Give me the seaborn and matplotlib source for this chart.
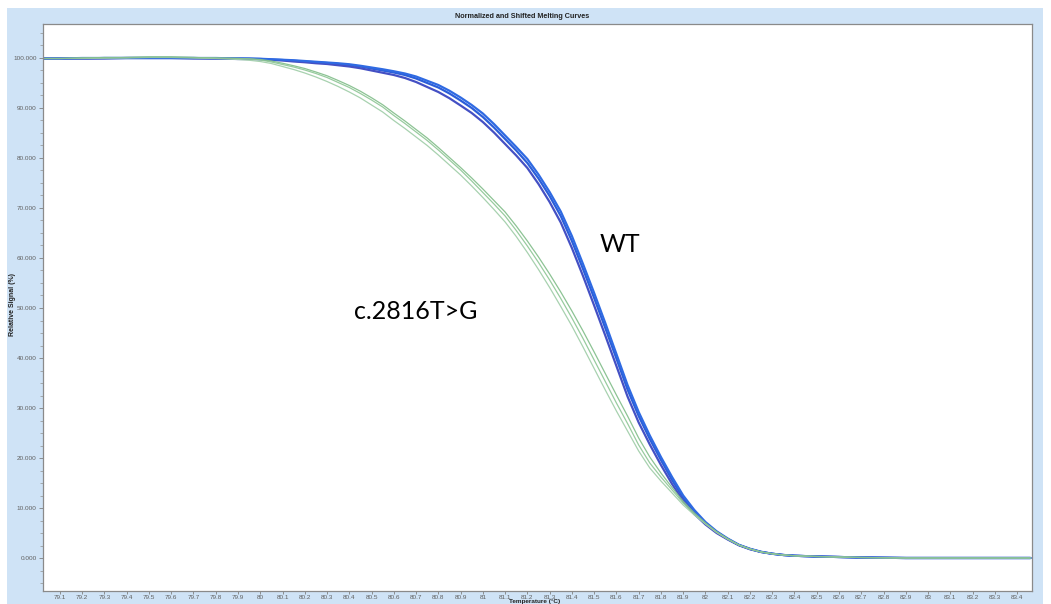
import matplotlib
matplotlib.use("Agg")
import matplotlib.pyplot as plt
from matplotlib.patches import Rectangle
from matplotlib.ticker import MultipleLocator, FixedLocator, FuncFormatter
import numpy as np
import pandas as pd
import seaborn as sns

# Temperature sampling (°C)
temps = [79.03, 79.1, 79.2, 79.3, 79.4, 79.5, 79.6, 79.7, 79.8, 79.9,
         79.95, 80.00, 80.05, 80.10, 80.15, 80.20, 80.25, 80.30, 80.35, 80.40,
         80.45, 80.50, 80.55, 80.60, 80.65, 80.70, 80.75, 80.80, 80.85, 80.90,
         80.95, 81.00, 81.05, 81.10, 81.15, 81.20, 81.25, 81.30, 81.35, 81.40,
         81.45, 81.50, 81.55, 81.60, 81.65, 81.70, 81.75, 81.80, 81.85, 81.90,
         81.95, 82.00, 82.05, 82.10, 82.15, 82.20, 82.25, 82.30, 82.35, 82.40,
         82.5, 82.6, 82.7, 82.8, 82.9, 83.0, 83.1, 83.2, 83.3, 83.4, 83.46]

# Wild-type replicates (relative signal, %)
wt_1 = [99.9, 99.9, 99.9, 100.0, 100.0, 100.0, 100.0, 100.0, 99.9, 99.9,
        99.85, 99.8, 99.7, 99.6, 99.45, 99.3, 99.15, 99.0, 98.8, 98.6,
        98.3, 97.9, 97.5, 97.1, 96.6, 95.9, 95.0, 94.1, 92.9, 91.5,
        90.0, 88.2, 86.1, 83.8, 81.5, 79.0, 75.9, 72.4, 68.4, 63.4,
        57.8, 52.0, 46.0, 39.9, 33.7, 28.4, 23.8, 19.6, 15.6, 12.0,
        9.2, 7.0, 5.2, 3.8, 2.6, 1.8, 1.2, 0.85, 0.6, 0.45,
        0.3, 0.2, 0.1, 0.05, 0.0, 0.0, 0.0, 0.0, 0.0, 0.0, 0.0]
wt_2 = [99.9, 99.9, 99.9, 99.9, 100.0, 100.0, 100.0, 99.9, 99.9, 99.8,
        99.8, 99.75, 99.6, 99.5, 99.3, 99.15, 98.95, 98.8, 98.55, 98.3,
        97.95, 97.5, 97.05, 96.6, 96.0, 95.2, 94.2, 93.2, 91.95, 90.5,
        89.0, 87.2, 85.1, 82.8, 80.5, 78.0, 74.8, 71.2, 67.1, 62.0,
        56.4, 50.5, 44.5, 38.4, 32.3, 27.1, 22.7, 18.6, 14.8, 11.4,
        8.8, 6.7, 5.0, 3.7, 2.55, 1.75, 1.2, 0.85, 0.6, 0.45,
        0.3, 0.2, 0.1, 0.05, 0.0, 0.0, 0.0, 0.0, 0.0, 0.0, 0.0]
wt_3 = [99.9, 99.9, 100.0, 100.0, 100.0, 100.0, 100.0, 100.0, 100.0, 99.9,
        99.9, 99.85, 99.75, 99.65, 99.55, 99.4, 99.25, 99.1, 98.95, 98.75,
        98.45, 98.1, 97.75, 97.35, 96.9, 96.3, 95.45, 94.6, 93.45, 92.1,
        90.6, 88.9, 86.8, 84.5, 82.2, 79.8, 76.7, 73.2, 69.3, 64.4,
        58.8, 53.0, 47.0, 40.8, 34.6, 29.2, 24.5, 20.2, 16.2, 12.5,
        9.6, 7.2, 5.35, 3.9, 2.65, 1.85, 1.25, 0.85, 0.6, 0.45,
        0.3, 0.2, 0.1, 0.05, 0.0, 0.0, 0.0, 0.0, 0.0, 0.0, 0.0]

# c.2816T>G replicates (relative signal, %)
mut_1 = [99.9, 99.9, 100.0, 100.0, 100.1, 100.2, 100.2, 100.1, 100.0, 99.9,
         99.8, 99.6, 99.2, 98.7, 98.2, 97.6, 96.9, 96.1, 95.1, 94.1,
         92.9, 91.6, 90.2, 88.5, 86.9, 85.2, 83.5, 81.6, 79.6, 77.6,
         75.4, 73.1, 70.8, 68.4, 65.5, 62.4, 59.1, 55.6, 51.9, 48.0,
         43.9, 39.6, 35.3, 31.0, 26.9, 22.6, 19.0, 16.2, 13.6, 11.0,
         8.8, 6.9, 5.2, 3.8, 2.6, 1.8, 1.2, 0.85, 0.6, 0.45,
         0.3, 0.2, 0.1, 0.05, 0.0, 0.0, 0.0, 0.0, 0.0, 0.0, 0.0]
mut_2 = [99.9, 99.9, 99.9, 100.0, 100.0, 100.1, 100.1, 100.0, 99.9, 99.7,
         99.55, 99.3, 98.9, 98.3, 97.7, 97.0, 96.2, 95.3, 94.3, 93.2,
         92.0, 90.6, 89.2, 87.5, 85.9, 84.2, 82.5, 80.6, 78.6, 76.6,
         74.4, 72.1, 69.7, 67.2, 64.3, 61.1, 57.7, 54.1, 50.3, 46.4,
         42.2, 37.9, 33.6, 29.4, 25.4, 21.4, 18.0, 15.4, 13.0, 10.6,
         8.6, 6.8, 5.1, 3.75, 2.6, 1.8, 1.2, 0.85, 0.6, 0.45,
         0.3, 0.2, 0.1, 0.05, 0.0, 0.0, 0.0, 0.0, 0.0, 0.0, 0.0]
mut_3 = [99.9, 99.9, 100.0, 100.1, 100.1, 100.2, 100.2, 100.1, 100.0, 99.9,
         99.85, 99.7, 99.4, 98.95, 98.45, 97.9, 97.2, 96.45, 95.5, 94.5,
         93.35, 92.05, 90.65, 89.0, 87.4, 85.7, 84.0, 82.1, 80.1, 78.1,
         76.0, 73.8, 71.5, 69.2, 66.4, 63.4, 60.2, 56.8, 53.2, 49.4,
         45.4, 41.2, 36.9, 32.6, 28.4, 24.0, 20.2, 17.0, 14.1, 11.3,
         9.0, 7.0, 5.25, 3.85, 2.6, 1.8, 1.2, 0.85, 0.6, 0.45,
         0.3, 0.2, 0.1, 0.05, 0.0, 0.0, 0.0, 0.0, 0.0, 0.0, 0.0]

x_ticks = [79.1, 79.2, 79.3, 79.4, 79.5, 79.6, 79.7, 79.8, 79.9, 80.0,
           80.1, 80.2, 80.3, 80.4, 80.5, 80.6, 80.7, 80.8, 80.9, 81.0,
           81.1, 81.2, 81.3, 81.4, 81.5, 81.6, 81.7, 81.8, 81.9, 82.0,
           82.1, 82.2, 82.3, 82.4, 82.5, 82.6, 82.7, 82.8, 82.9, 83.0,
           83.1, 83.2, 83.3, 83.4]
y_ticks = [0, 10, 20, 30, 40, 50, 60, 70, 80, 90, 100]

wells = {"WT-1": wt_1, "WT-2": wt_2, "WT-3": wt_3,
         "MUT-1": mut_1, "MUT-2": mut_2, "MUT-3": mut_3}
frames = [pd.DataFrame({"temp": temps, "signal": vals, "well": name})
          for name, vals in wells.items()]
df = pd.concat(frames, ignore_index=True)

sns.set_style("white")
plt.rcParams["font.family"] = ["Liberation Sans Narrow", "Liberation Sans", "DejaVu Sans"]

W, H = 1051, 604
fig = plt.figure(figsize=(W / 100, H / 100), dpi=100, facecolor="white")

# light-blue chart panel behind the axes
panel = Rectangle((7 / W, 0), (1043 - 7) / W, (H - 8) / H,
                  transform=fig.transFigure, facecolor="#cfe3f6",
                  edgecolor="none", zorder=-10)
fig.add_artist(panel)

ax = fig.add_axes([43 / W, (H - 591) / H, (1032 - 43) / W, (591 - 24) / H])
ax.set_zorder(1)
ax.set_facecolor("white")

wt_palette = {"WT-1": "#2b5ed9", "WT-2": "#4450c4", "WT-3": "#2f6ae2"}
mut_palette = {"MUT-1": "#93c99a", "MUT-2": "#a3cfab", "MUT-3": "#86c08e"}

sns.lineplot(data=df[df["well"].str.startswith("WT")], x="temp", y="signal",
             hue="well", palette=wt_palette, estimator=None, sort=False,
             legend=False, linewidth=1.6, ax=ax)
sns.lineplot(data=df[df["well"].str.startswith("MUT")], x="temp", y="signal",
             hue="well", palette=mut_palette, estimator=None, sort=False,
             legend=False, linewidth=0.9, alpha=0.95, ax=ax)

ax.set_xlim(79.024, 83.467)
ax.set_ylim(-6.6, 106.8)

ax.xaxis.set_major_locator(FixedLocator(x_ticks))
ax.xaxis.set_major_formatter(FuncFormatter(lambda v, p: f"{round(v, 1):g}"))
ax.yaxis.set_major_locator(FixedLocator(y_ticks))
ax.yaxis.set_minor_locator(MultipleLocator(2.5))
ax.yaxis.set_major_formatter(FuncFormatter(lambda v, p: f"{v:.3f}"))

ax.tick_params(axis="y", which="major", direction="out", length=3,
               width=0.6, color="#808080", labelcolor="#606060", labelsize=4.6, pad=1.5)
ax.tick_params(axis="x", which="major", direction="out", length=2,
               width=0.6, color="#808080", labelcolor="#606060", labelsize=4.6, pad=0.8)
ax.tick_params(axis="y", which="minor", direction="out", length=2,
               width=0.5, color="#909090")
ax.tick_params(left=True, bottom=True, which="both")
ax.tick_params(axis="y", which="minor", left=True)

for s in ax.spines.values():
    s.set_color("#8a8a8a")
    s.set_linewidth(0.9)
ax.set_xlabel("")
ax.set_ylabel("")

fig.text(522 / W, 1 - 17 / H, "Normalized and Shifted Melting Curves",
         ha="center", va="center", fontsize=5.2, fontweight="bold", color="#222222")
fig.text(535 / W, 0.0, "Temperature (°C)", ha="center", va="bottom",
         fontsize=4.6, fontweight="bold", color="#222222")
fig.text(13 / W, 1 - 305 / H, "Relative Signal (%)", ha="center", va="center",
         rotation=90, fontsize=5.0, fontweight="bold", color="#222222")

ax.text(81.616, 62.6, "WT", ha="center", va="center", fontsize=18,
        family=["Lato", "DejaVu Sans"], color="black")
ax.text(80.70, 49.2, "c.2816T>G", ha="center", va="center", fontsize=18,
        family=["Lato", "DejaVu Sans"], color="black")

fig.savefig("out.png", dpi=100, facecolor="white")
